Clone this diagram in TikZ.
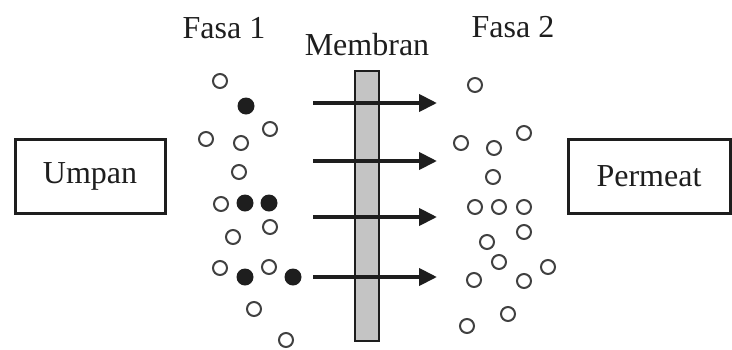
\documentclass[tikz,border=0pt]{standalone}
\usepackage{fontspec}
\setmainfont{Liberation Serif}
\usetikzlibrary{arrows.meta}
\definecolor{ink}{RGB}{30,30,30}
\definecolor{membrane}{RGB}{196,196,196}
\tikzset{
  label/.style={font=\fontsize{32}{36}\selectfont, text=ink, inner sep=0pt},
  stream/.style={draw=ink, line width=3pt, minimum height=74pt,
    font=\fontsize{32}{36}\selectfont, text=ink},
  wall/.style={draw=ink, line width=2pt, fill=membrane,
    minimum width=24pt, minimum height=270pt, inner sep=0pt},
  open/.style={circle, draw=ink!85, line width=2pt, minimum size=14pt, inner sep=0pt},
  solid/.style={circle, fill=ink, minimum size=17pt, inner sep=0pt},
  flow/.style={draw=ink, line width=4pt, -{Triangle[length=18pt, width=17pt]}}
}
\begin{document}
\begin{tikzpicture}[x=1pt, y=-1pt]
  \useasboundingbox (0,0) rectangle (732,349);

  % headings
  \node[label] (f1) at (224,28) {Fasa 1};
  \node[label] (mlab) at (367,45) {Membran};
  \node[label] (f2) at (513,27) {Fasa 2};

  % feed and permeate boxes
  \node[stream, minimum width=150pt] (umpan) at (90,176) {Umpan};
  \node[stream, minimum width=162pt] (permeat) at (649,176) {Permeat};

  % membrane
  \node[wall] (mem) at (367,206) {};

  % particles on the feed side
  \foreach \x/\y [count=\i] in {220/81, 206/139, 241/143, 270/129, 239/172,
      221/204, 233/237, 270/227, 220/268, 269/267, 254/309, 286/340}
    \node[open] (a\i) at (\x,\y) {};
  \foreach \x/\y [count=\i] in {246/106, 245/203, 269/203, 245/277, 293/277}
    \node[solid] (b\i) at (\x,\y) {};

  % particles on the permeate side
  \foreach \x/\y [count=\i] in {475/85, 461/143, 494/148, 524/133, 493/177,
      475/207, 499/207, 524/207, 524/232, 487/242, 499/262, 548/267,
      474/280, 524/281, 508/314, 467/326}
    \node[open] (c\i) at (\x,\y) {};

  % transport through the membrane
  \foreach \y [count=\i] in {103,161,217,277} {
    \coordinate (s\i) at (313,\y);
    \coordinate (e\i) at (437,\y);
    \draw[flow] (s\i) -- (e\i);
  }
\end{tikzpicture}
\end{document}
